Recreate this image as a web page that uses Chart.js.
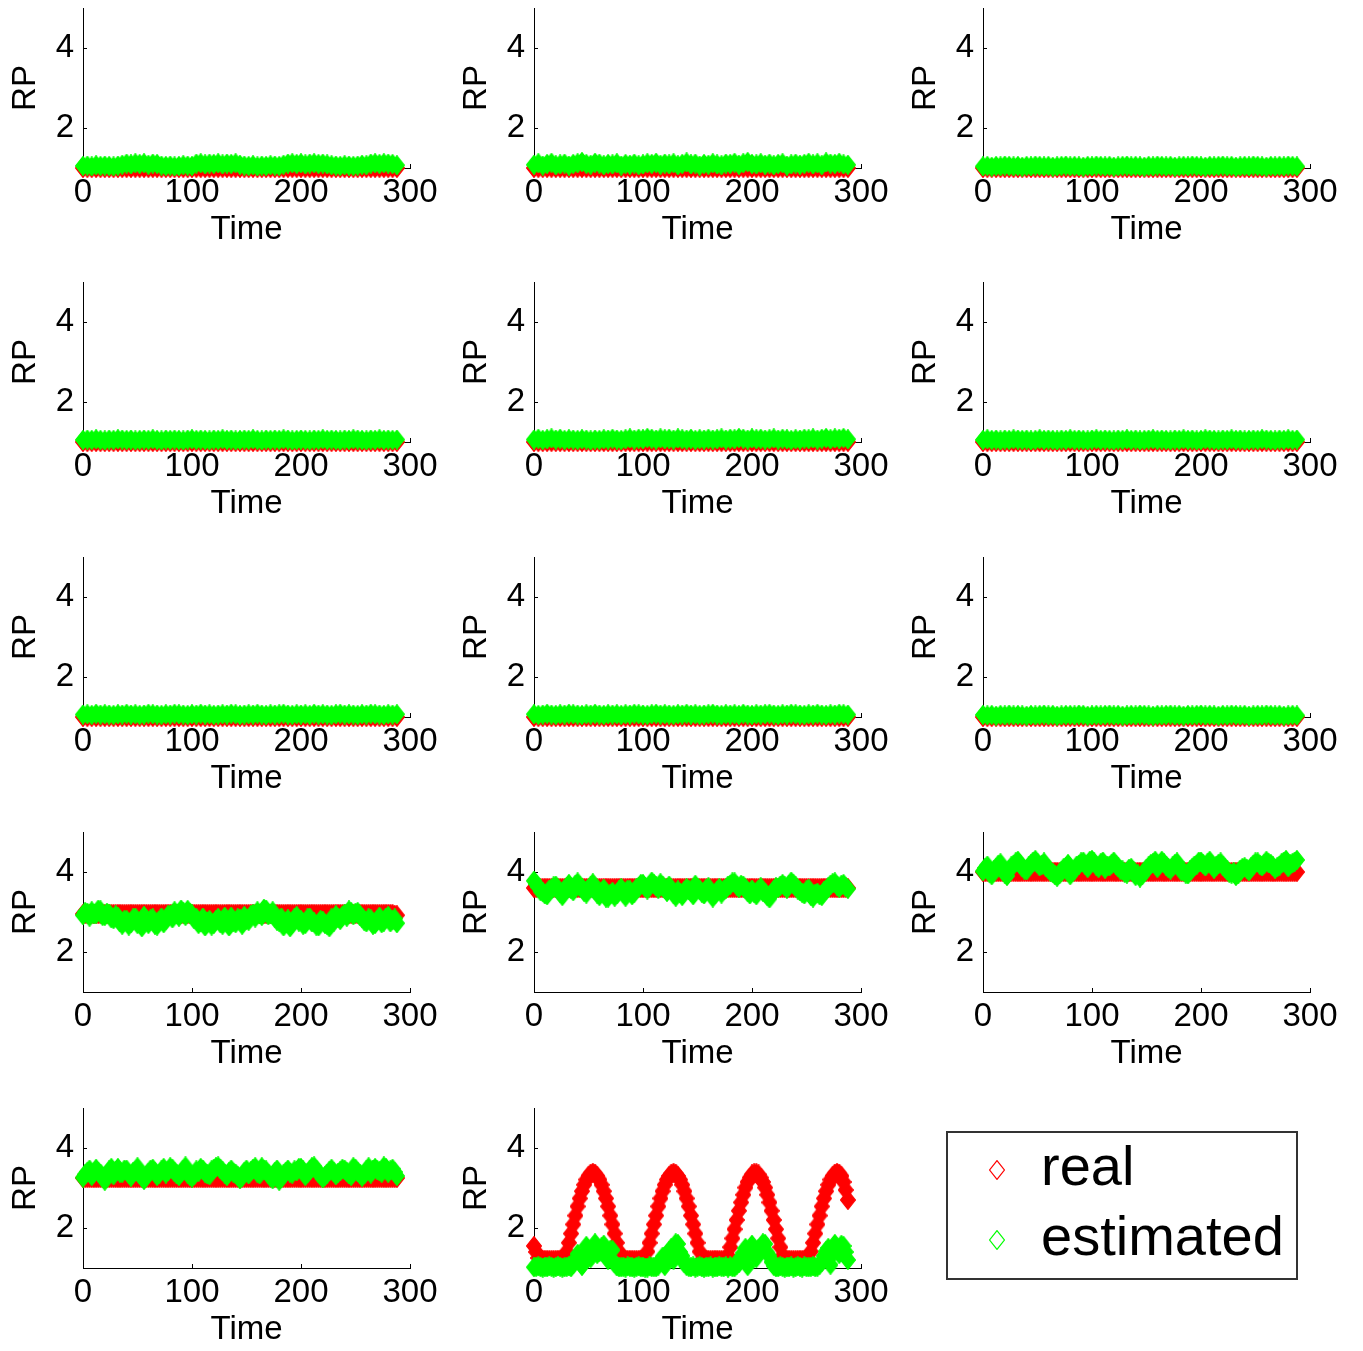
<!DOCTYPE html>
<html>
<head>
<meta charset="utf-8">
<script src="https://cdn.jsdelivr.net/npm/chart.js@4.4.1/dist/chart.umd.min.js"></script>
<style>
  body { margin: 0; background: #fff; }
  #page { position: relative; width: 1363px; height: 1351px; overflow: hidden; }
  canvas { position: absolute; }
  #legendBox { position: absolute; left: 946px; top: 1131px; width: 352px; height: 149px;
               box-sizing: border-box; border: 2px solid #333; }
</style>
</head>
<body>
<div id="page">
  <div id="legendBox"></div>
</div>
<script>
/* RP vs time, real and estimated, 14 small panels + legend */

// time steps: every 4th step for the flat panels, every 2nd for the busy ones
const time4 = [
    0, 4, 8, 12, 16, 20, 24, 28, 32, 36,
    40, 44, 48, 52, 56, 60, 64, 68, 72, 76,
    80, 84, 88, 92, 96, 100, 104, 108, 112, 116,
    120, 124, 128, 132, 136, 140, 144, 148, 152, 156,
    160, 164, 168, 172, 176, 180, 184, 188, 192, 196,
    200, 204, 208, 212, 216, 220, 224, 228, 232, 236,
    240, 244, 248, 252, 256, 260, 264, 268, 272, 276,
    280, 284, 288 ];

const time2 = [
    0, 2, 4, 6, 8, 10, 12, 14, 16, 18,
    20, 22, 24, 26, 28, 30, 32, 34, 36, 38,
    40, 42, 44, 46, 48, 50, 52, 54, 56, 58,
    60, 62, 64, 66, 68, 70, 72, 74, 76, 78,
    80, 82, 84, 86, 88, 90, 92, 94, 96, 98,
    100, 102, 104, 106, 108, 110, 112, 114, 116, 118,
    120, 122, 124, 126, 128, 130, 132, 134, 136, 138,
    140, 142, 144, 146, 148, 150, 152, 154, 156, 158,
    160, 162, 164, 166, 168, 170, 172, 174, 176, 178,
    180, 182, 184, 186, 188, 190, 192, 194, 196, 198,
    200, 202, 204, 206, 208, 210, 212, 214, 216, 218,
    220, 222, 224, 226, 228, 230, 232, 234, 236, 238,
    240, 242, 244, 246, 248, 250, 252, 254, 256, 258,
    260, 262, 264, 266, 268, 270, 272, 274, 276, 278,
    280, 282, 284, 286, 288 ];

const xTicks = [0, 100, 200, 300];
const xTickLabels = ['0', '100', '200', '300'];
const yTicks = [2, 4];
const yTickLabels = ['2', '4'];
const seriesNames = ['real', 'estimated'];

// real RP
const realOne = [
    1, 1, 1, 1, 1, 1, 1, 1, 1, 1,
    1, 1, 1, 1, 1, 1, 1, 1, 1, 1,
    1, 1, 1, 1, 1, 1, 1, 1, 1, 1,
    1, 1, 1, 1, 1, 1, 1, 1, 1, 1,
    1, 1, 1, 1, 1, 1, 1, 1, 1, 1,
    1, 1, 1, 1, 1, 1, 1, 1, 1, 1,
    1, 1, 1, 1, 1, 1, 1, 1, 1, 1,
    1, 1, 1 ];

const real10 = [
    2.95, 2.95, 2.95, 2.95, 2.95, 2.95, 2.95, 2.95, 2.95, 2.95,
    2.95, 2.95, 2.95, 2.95, 2.95, 2.95, 2.95, 2.95, 2.95, 2.95,
    2.95, 2.95, 2.95, 2.95, 2.95, 2.95, 2.95, 2.95, 2.95, 2.95,
    2.95, 2.95, 2.95, 2.95, 2.95, 2.95, 2.95, 2.95, 2.95, 2.95,
    2.95, 2.95, 2.95, 2.95, 2.95, 2.95, 2.95, 2.95, 2.95, 2.95,
    2.95, 2.95, 2.95, 2.95, 2.95, 2.95, 2.95, 2.95, 2.95, 2.95,
    2.95, 2.95, 2.95, 2.95, 2.95, 2.95, 2.95, 2.95, 2.95, 2.95,
    2.95, 2.95, 2.95, 2.95, 2.95, 2.95, 2.95, 2.95, 2.95, 2.95,
    2.95, 2.95, 2.95, 2.95, 2.95, 2.95, 2.95, 2.95, 2.95, 2.95,
    2.95, 2.95, 2.95, 2.95, 2.95, 2.95, 2.95, 2.95, 2.95, 2.95,
    2.95, 2.95, 2.95, 2.95, 2.95, 2.95, 2.95, 2.95, 2.95, 2.95,
    2.95, 2.95, 2.95, 2.95, 2.95, 2.95, 2.95, 2.95, 2.95, 2.95,
    2.95, 2.95, 2.95, 2.95, 2.95, 2.95, 2.95, 2.95, 2.95, 2.95,
    2.95, 2.95, 2.95, 2.95, 2.95, 2.95, 2.95, 2.95, 2.95, 2.95,
    2.95, 2.95, 2.95, 2.93, 2.92 ];

const real11 = [
    3.6, 3.6, 3.6, 3.6, 3.6, 3.6, 3.6, 3.6, 3.6, 3.6,
    3.6, 3.6, 3.6, 3.6, 3.6, 3.6, 3.6, 3.6, 3.6, 3.6,
    3.6, 3.6, 3.6, 3.6, 3.6, 3.6, 3.6, 3.6, 3.6, 3.6,
    3.6, 3.6, 3.6, 3.6, 3.6, 3.6, 3.6, 3.6, 3.6, 3.6,
    3.6, 3.6, 3.6, 3.6, 3.6, 3.6, 3.6, 3.6, 3.6, 3.6,
    3.6, 3.6, 3.6, 3.6, 3.6, 3.6, 3.6, 3.6, 3.6, 3.6,
    3.6, 3.6, 3.6, 3.6, 3.6, 3.6, 3.6, 3.6, 3.6, 3.6,
    3.6, 3.6, 3.6, 3.6, 3.6, 3.6, 3.6, 3.6, 3.6, 3.6,
    3.6, 3.6, 3.6, 3.6, 3.6, 3.6, 3.6, 3.6, 3.6, 3.6,
    3.6, 3.6, 3.6, 3.6, 3.6, 3.6, 3.6, 3.6, 3.6, 3.6,
    3.6, 3.6, 3.6, 3.6, 3.6, 3.6, 3.6, 3.6, 3.6, 3.6,
    3.6, 3.6, 3.6, 3.6, 3.6, 3.6, 3.6, 3.6, 3.6, 3.6,
    3.6, 3.6, 3.6, 3.6, 3.6, 3.6, 3.6, 3.6, 3.6, 3.6,
    3.6, 3.6, 3.6, 3.6, 3.6, 3.6, 3.6, 3.6, 3.6, 3.6,
    3.6, 3.6, 3.6, 3.6, 3.6 ];

const real12 = [
    4, 4, 4, 4, 4, 4, 4, 4, 4, 4,
    4, 4, 4, 4, 4, 4, 4, 4, 4, 4,
    4, 4, 4, 4, 4, 4, 4, 4, 4, 4,
    4, 4, 4, 4, 4, 4, 4, 4, 4, 4,
    4, 4, 4, 4, 4, 4, 4, 4, 4, 4,
    4, 4, 4, 4, 4, 4, 4, 4, 4, 4,
    4, 4, 4, 4, 4, 4, 4, 4, 4, 4,
    4, 4, 4, 4, 4, 4, 4, 4, 4, 4,
    4, 4, 4, 4, 4, 4, 4, 4, 4, 4,
    4, 4, 4, 4, 4, 4, 4, 4, 4, 4,
    4, 4, 4, 4, 4, 4, 4, 4, 4, 4,
    4, 4, 4, 4, 4, 4, 4, 4, 4, 4,
    4, 4, 4, 4, 4, 4, 4, 4, 4, 4,
    4, 4, 4, 4, 4, 4, 4, 4, 4, 4,
    4, 4, 4, 4, 4 ];

const real13 = [
    3.25, 3.25, 3.25, 3.25, 3.25, 3.25, 3.25, 3.25, 3.25, 3.25,
    3.25, 3.25, 3.25, 3.25, 3.25, 3.25, 3.25, 3.25, 3.25, 3.25,
    3.25, 3.25, 3.25, 3.25, 3.25, 3.25, 3.25, 3.25, 3.25, 3.25,
    3.25, 3.25, 3.25, 3.25, 3.25, 3.25, 3.25, 3.25, 3.25, 3.25,
    3.25, 3.25, 3.25, 3.25, 3.25, 3.25, 3.25, 3.25, 3.25, 3.25,
    3.25, 3.25, 3.25, 3.25, 3.25, 3.25, 3.25, 3.25, 3.25, 3.25,
    3.25, 3.25, 3.25, 3.25, 3.25, 3.25, 3.25, 3.25, 3.25, 3.25,
    3.25, 3.25, 3.25, 3.25, 3.25, 3.25, 3.25, 3.25, 3.25, 3.25,
    3.25, 3.25, 3.25, 3.25, 3.25, 3.25, 3.25, 3.25, 3.25, 3.25,
    3.25, 3.25, 3.25, 3.25, 3.25, 3.25, 3.25, 3.25, 3.25, 3.25,
    3.25, 3.25, 3.25, 3.25, 3.25, 3.25, 3.25, 3.25, 3.25, 3.25,
    3.25, 3.25, 3.25, 3.25, 3.25, 3.25, 3.25, 3.25, 3.25, 3.25,
    3.25, 3.25, 3.25, 3.25, 3.25, 3.25, 3.25, 3.25, 3.25, 3.25,
    3.25, 3.25, 3.25, 3.25, 3.25, 3.25, 3.25, 3.25, 3.25, 3.25,
    3.25, 3.25, 3.25, 3.25, 3.25 ];

const real14 = [
    1.55, 1.4, 1.25, 1.2, 1.2, 1.2, 1.2, 1.2, 1.2, 1.2,
    1.2, 1.2, 1.2, 1.2, 1.2, 1.41, 1.63, 1.86, 2.09, 2.31,
    2.54, 2.74, 2.92, 3.08, 3.21, 3.30, 3.36, 3.38, 3.36, 3.30,
    3.21, 3.08, 2.92, 2.74, 2.54, 2.31, 2.09, 1.86, 1.63, 1.41,
    1.2, 1.2, 1.2, 1.2, 1.2, 1.2, 1.2, 1.2, 1.2, 1.2,
    1.2, 1.2, 1.41, 1.63, 1.86, 2.09, 2.31, 2.54, 2.74, 2.92,
    3.08, 3.21, 3.30, 3.36, 3.38, 3.36, 3.30, 3.21, 3.08, 2.92,
    2.74, 2.54, 2.31, 2.09, 1.86, 1.63, 1.41, 1.2, 1.2, 1.2,
    1.2, 1.2, 1.2, 1.2, 1.2, 1.2, 1.2, 1.2, 1.2, 1.31,
    1.52, 1.74, 1.97, 2.20, 2.43, 2.64, 2.83, 3.01, 3.15, 3.26,
    3.34, 3.37, 3.37, 3.34, 3.26, 3.15, 3.01, 2.83, 2.64, 2.43,
    2.20, 1.97, 1.74, 1.52, 1.31, 1.2, 1.2, 1.2, 1.2, 1.2,
    1.2, 1.2, 1.2, 1.2, 1.2, 1.2, 1.2, 1.41, 1.63, 1.86,
    2.09, 2.31, 2.54, 2.74, 2.92, 3.08, 3.21, 3.30, 3.36, 3.38,
    3.36, 3.30, 3.15, 2.95, 2.70 ];

// estimated RP
const est1 = [
    1.05, 1.06, 1.04, 1.07, 1.05, 1.06, 1.05, 1.04, 1.06, 1.08,
    1.11, 1.09, 1.12, 1.10, 1.12, 1.08, 1.11, 1.10, 1.06, 1.05,
    1.06, 1.04, 1.05, 1.07, 1.06, 1.05, 1.11, 1.12, 1.09, 1.11,
    1.10, 1.12, 1.09, 1.11, 1.10, 1.12, 1.08, 1.06, 1.05, 1.07,
    1.04, 1.06, 1.05, 1.07, 1.06, 1.05, 1.08, 1.11, 1.12, 1.10,
    1.12, 1.09, 1.11, 1.12, 1.10, 1.11, 1.09, 1.07, 1.06, 1.05,
    1.07, 1.06, 1.05, 1.06, 1.08, 1.07, 1.11, 1.12, 1.10, 1.12,
    1.11, 1.10, 1.07 ];

const est2 = [
    1.08, 1.12, 1.06, 1.10, 1.13, 1.07, 1.09, 1.11, 1.06, 1.10,
    1.12, 1.15, 1.10, 1.08, 1.13, 1.11, 1.07, 1.10, 1.09, 1.12,
    1.06, 1.10, 1.08, 1.11, 1.07, 1.09, 1.12, 1.10, 1.13, 1.08,
    1.11, 1.09, 1.12, 1.07, 1.10, 1.14, 1.09, 1.11, 1.06, 1.10,
    1.08, 1.12, 1.09, 1.07, 1.11, 1.10, 1.13, 1.08, 1.12, 1.15,
    1.10, 1.09, 1.12, 1.08, 1.11, 1.07, 1.10, 1.12, 1.06, 1.09,
    1.11, 1.08, 1.10, 1.13, 1.09, 1.12, 1.07, 1.14, 1.11, 1.10,
    1.13, 1.09, 1.08 ];

const est3 = [
    1.04, 1.05, 1.03, 1.05, 1.04, 1.06, 1.05, 1.04, 1.05, 1.03,
    1.05, 1.04, 1.06, 1.05, 1.04, 1.05, 1.03, 1.04, 1.05, 1.06,
    1.04, 1.05, 1.04, 1.03, 1.05, 1.04, 1.06, 1.05, 1.04, 1.05,
    1.03, 1.04, 1.05, 1.06, 1.04, 1.05, 1.04, 1.03, 1.05, 1.04,
    1.06, 1.05, 1.04, 1.05, 1.03, 1.04, 1.05, 1.04, 1.06, 1.05,
    1.04, 1.03, 1.05, 1.04, 1.05, 1.06, 1.04, 1.05, 1.03, 1.04,
    1.05, 1.04, 1.06, 1.05, 1.04, 1.03, 1.05, 1.04, 1.05, 1.04,
    1.06, 1.05, 1.04 ];

const est4 = [
    1.05, 1.06, 1.05, 1.07, 1.05, 1.04, 1.06, 1.05, 1.07, 1.06,
    1.05, 1.06, 1.04, 1.05, 1.06, 1.05, 1.07, 1.05, 1.04, 1.06,
    1.05, 1.06, 1.05, 1.04, 1.06, 1.07, 1.05, 1.06, 1.05, 1.04,
    1.06, 1.05, 1.07, 1.05, 1.06, 1.04, 1.05, 1.06, 1.05, 1.07,
    1.05, 1.04, 1.06, 1.05, 1.06, 1.05, 1.07, 1.06, 1.04, 1.05,
    1.06, 1.05, 1.04, 1.06, 1.05, 1.07, 1.05, 1.06, 1.05, 1.04,
    1.06, 1.05, 1.07, 1.06, 1.05, 1.04, 1.06, 1.05, 1.07, 1.05,
    1.06, 1.05, 1.06 ];

const est5 = [
    1.06, 1.08, 1.05, 1.07, 1.09, 1.06, 1.08, 1.05, 1.07, 1.06,
    1.05, 1.07, 1.06, 1.04, 1.06, 1.05, 1.07, 1.06, 1.08, 1.06,
    1.05, 1.07, 1.09, 1.06, 1.08, 1.07, 1.10, 1.08, 1.06, 1.09,
    1.07, 1.08, 1.06, 1.09, 1.07, 1.06, 1.08, 1.05, 1.07, 1.06,
    1.08, 1.06, 1.07, 1.09, 1.06, 1.08, 1.07, 1.10, 1.08, 1.06,
    1.09, 1.07, 1.08, 1.06, 1.07, 1.09, 1.06, 1.08, 1.07, 1.05,
    1.07, 1.06, 1.08, 1.07, 1.09, 1.06, 1.08, 1.10, 1.07, 1.09,
    1.08, 1.10, 1.07 ];

const est6 = [
    1.05, 1.07, 1.05, 1.06, 1.04, 1.06, 1.05, 1.07, 1.06, 1.05,
    1.06, 1.04, 1.05, 1.07, 1.05, 1.06, 1.05, 1.04, 1.06, 1.05,
    1.07, 1.05, 1.06, 1.05, 1.04, 1.06, 1.07, 1.05, 1.06, 1.05,
    1.04, 1.06, 1.05, 1.07, 1.05, 1.06, 1.04, 1.05, 1.06, 1.07,
    1.05, 1.06, 1.05, 1.04, 1.06, 1.05, 1.07, 1.05, 1.06, 1.04,
    1.05, 1.07, 1.06, 1.05, 1.04, 1.06, 1.05, 1.07, 1.05, 1.06,
    1.04, 1.05, 1.06, 1.05, 1.07, 1.06, 1.05, 1.04, 1.06, 1.05,
    1.07, 1.05, 1.06 ];

const est7 = [
    1.06, 1.07, 1.05, 1.08, 1.06, 1.07, 1.06, 1.05, 1.07, 1.06,
    1.08, 1.06, 1.07, 1.05, 1.06, 1.08, 1.07, 1.06, 1.05, 1.07,
    1.06, 1.08, 1.07, 1.06, 1.05, 1.07, 1.06, 1.08, 1.06, 1.07,
    1.05, 1.06, 1.07, 1.06, 1.08, 1.07, 1.05, 1.06, 1.07, 1.06,
    1.08, 1.06, 1.05, 1.07, 1.06, 1.07, 1.08, 1.06, 1.05, 1.07,
    1.06, 1.07, 1.05, 1.08, 1.06, 1.07, 1.06, 1.05, 1.07, 1.08,
    1.06, 1.07, 1.06, 1.05, 1.07, 1.06, 1.08, 1.07, 1.06, 1.05,
    1.07, 1.06, 1.07 ];

const est8 = [
    1.07, 1.05, 1.06, 1.08, 1.06, 1.05, 1.07, 1.06, 1.08, 1.07,
    1.06, 1.05, 1.07, 1.06, 1.08, 1.06, 1.05, 1.07, 1.06, 1.07,
    1.05, 1.07, 1.06, 1.08, 1.07, 1.06, 1.05, 1.07, 1.08, 1.06,
    1.07, 1.06, 1.05, 1.07, 1.06, 1.08, 1.06, 1.07, 1.05, 1.06,
    1.07, 1.08, 1.06, 1.05, 1.07, 1.06, 1.07, 1.05, 1.08, 1.06,
    1.05, 1.07, 1.06, 1.07, 1.08, 1.06, 1.05, 1.07, 1.06, 1.08,
    1.07, 1.06, 1.05, 1.07, 1.06, 1.08, 1.06, 1.05, 1.07, 1.06,
    1.08, 1.07, 1.06 ];

const est9 = [
    1.05, 1.04, 1.05, 1.03, 1.05, 1.04, 1.06, 1.04, 1.05, 1.04,
    1.03, 1.05, 1.04, 1.05, 1.06, 1.04, 1.05, 1.03, 1.04, 1.05,
    1.05, 1.04, 1.06, 1.05, 1.03, 1.04, 1.05, 1.04, 1.05, 1.06,
    1.04, 1.05, 1.03, 1.04, 1.05, 1.04, 1.06, 1.05, 1.04, 1.03,
    1.05, 1.04, 1.05, 1.06, 1.04, 1.05, 1.03, 1.05, 1.04, 1.05,
    1.06, 1.04, 1.05, 1.04, 1.03, 1.05, 1.04, 1.06, 1.05, 1.04,
    1.05, 1.03, 1.04, 1.05, 1.04, 1.06, 1.05, 1.04, 1.05, 1.03,
    1.04, 1.05, 1.04 ];

const est10 = [
    2.92, 3.00, 2.98, 2.88, 3.02, 2.94, 2.95, 3.06, 3.04, 2.90,
    2.90, 2.98, 2.96, 2.84, 2.82, 2.92, 2.88, 2.74, 2.68, 2.80,
    2.80, 2.66, 2.72, 2.84, 2.86, 2.70, 2.75, 2.62, 2.90, 2.78,
    2.70, 2.82, 2.84, 2.68, 2.66, 2.78, 2.86, 2.72, 2.80, 2.92,
    2.92, 2.84, 3.02, 2.96, 2.88, 3.06, 3.00, 2.90, 3.05, 2.98,
    2.94, 2.82, 2.85, 2.70, 2.74, 2.86, 2.64, 2.76, 2.80, 2.66,
    2.70, 2.80, 2.85, 2.72, 2.68, 2.88, 2.78, 2.64, 2.88, 2.76,
    2.72, 2.84, 2.82, 2.68, 2.90, 2.80, 2.78, 2.92, 2.95, 2.86,
    3.02, 2.94, 2.90, 3.08, 3.06, 2.92, 2.96, 3.02, 2.86, 2.78,
    2.76, 2.86, 2.64, 2.72, 2.82, 2.62, 2.72, 2.84, 2.90, 2.76,
    2.80, 2.68, 2.70, 2.84, 2.86, 2.74, 2.74, 2.66, 2.64, 2.80,
    2.78, 2.70, 2.68, 2.62, 2.84, 2.76, 2.92, 2.86, 2.80, 2.90,
    2.96, 2.88, 3.04, 3.00, 2.92, 2.98, 3.00, 2.90, 2.86, 2.78,
    2.74, 2.84, 2.82, 2.68, 2.70, 2.80, 2.88, 2.72, 2.76, 2.86,
    2.90, 2.74, 2.80, 2.84, 2.72 ];

const est11 = [
    3.78, 3.70, 3.62, 3.52, 3.50, 3.44, 3.42, 3.56, 3.58, 3.64,
    3.66, 3.56, 3.48, 3.40, 3.56, 3.62, 3.70, 3.58, 3.52, 3.68,
    3.74, 3.64, 3.60, 3.50, 3.46, 3.58, 3.64, 3.72, 3.54, 3.46,
    3.40, 3.50, 3.58, 3.36, 3.36, 3.44, 3.50, 3.38, 3.44, 3.54,
    3.60, 3.48, 3.38, 3.56, 3.54, 3.42, 3.48, 3.60, 3.62, 3.70,
    3.70, 3.62, 3.56, 3.66, 3.76, 3.70, 3.64, 3.58, 3.72, 3.66,
    3.58, 3.50, 3.66, 3.56, 3.46, 3.38, 3.54, 3.48, 3.40, 3.52,
    3.60, 3.54, 3.50, 3.42, 3.68, 3.60, 3.56, 3.48, 3.44, 3.58,
    3.62, 3.50, 3.36, 3.44, 3.52, 3.60, 3.46, 3.54, 3.58, 3.66,
    3.68, 3.74, 3.74, 3.66, 3.60, 3.68, 3.66, 3.58, 3.50, 3.44,
    3.56, 3.48, 3.42, 3.56, 3.62, 3.50, 3.48, 3.40, 3.34, 3.46,
    3.54, 3.62, 3.60, 3.66, 3.70, 3.64, 3.58, 3.68, 3.76, 3.70,
    3.64, 3.56, 3.52, 3.48, 3.44, 3.54, 3.58, 3.40, 3.36, 3.46,
    3.48, 3.42, 3.40, 3.52, 3.56, 3.62, 3.68, 3.72, 3.74, 3.66,
    3.60, 3.68, 3.70, 3.62, 3.58 ];

const est12 = [
    4.02, 4.10, 4.16, 3.98, 3.92, 4.04, 4.10, 4.18, 4.22, 4.08,
    3.96, 3.90, 4.06, 4.14, 4.18, 4.24, 4.28, 4.20, 4.12, 4.06,
    4.04, 4.14, 4.20, 4.26, 4.30, 4.22, 4.14, 4.18, 4.24, 4.12,
    4.08, 4.00, 3.98, 3.92, 3.88, 3.94, 4.02, 4.10, 4.12, 4.20,
    3.92, 4.00, 4.06, 4.16, 4.18, 4.24, 4.26, 4.18, 4.10, 4.28,
    4.30, 4.24, 4.16, 4.10, 4.22, 4.26, 4.08, 4.16, 4.14, 4.20,
    4.26, 4.18, 4.12, 4.06, 4.04, 3.98, 3.96, 4.08, 4.10, 4.02,
    3.90, 3.94, 3.86, 3.92, 4.00, 4.08, 4.14, 4.20, 4.22, 4.28,
    4.10, 4.20, 4.28, 4.22, 4.16, 4.10, 4.06, 4.14, 4.20, 4.24,
    4.12, 4.02, 4.02, 3.96, 3.94, 4.04, 4.10, 4.16, 4.18, 4.26,
    4.26, 4.20, 4.14, 4.22, 4.28, 4.18, 4.08, 4.16, 4.20, 4.24,
    4.16, 4.10, 4.04, 3.98, 3.96, 4.00, 3.90, 3.94, 4.06, 4.10,
    4.12, 4.08, 4.02, 4.12, 4.18, 4.24, 4.24, 4.18, 4.14, 4.20,
    4.28, 4.22, 4.20, 4.14, 4.08, 4.12, 4.16, 4.22, 4.26, 4.30,
    4.12, 4.20, 4.22, 4.26, 4.30 ];

const est13 = [
    3.26, 3.34, 3.40, 3.46, 3.30, 3.38, 3.48, 3.40, 3.36, 3.28,
    3.18, 3.30, 3.44, 3.50, 3.32, 3.42, 3.50, 3.38, 3.38, 3.46,
    3.46, 3.36, 3.28, 3.40, 3.42, 3.52, 3.34, 3.28, 3.20, 3.30,
    3.38, 3.46, 3.48, 3.40, 3.30, 3.36, 3.44, 3.50, 3.36, 3.42,
    3.52, 3.48, 3.40, 3.34, 3.30, 3.38, 3.46, 3.54, 3.36, 3.30,
    3.26, 3.32, 3.44, 3.40, 3.50, 3.46, 3.38, 3.34, 3.32, 3.44,
    3.48, 3.52, 3.54, 3.48, 3.42, 3.36, 3.30, 3.40, 3.46, 3.38,
    3.36, 3.30, 3.22, 3.28, 3.40, 3.46, 3.34, 3.42, 3.48, 3.52,
    3.38, 3.34, 3.52, 3.46, 3.44, 3.36, 3.28, 3.22, 3.40, 3.46,
    3.18, 3.26, 3.34, 3.40, 3.46, 3.38, 3.36, 3.44, 3.42, 3.50,
    3.50, 3.44, 3.30, 3.38, 3.44, 3.52, 3.54, 3.46, 3.38, 3.32,
    3.24, 3.30, 3.36, 3.42, 3.48, 3.40, 3.32, 3.38, 3.42, 3.48,
    3.46, 3.40, 3.34, 3.30, 3.52, 3.48, 3.40, 3.36, 3.28, 3.34,
    3.44, 3.52, 3.36, 3.46, 3.50, 3.44, 3.42, 3.38, 3.54, 3.50,
    3.38, 3.44, 3.48, 3.40, 3.30 ];

const est14 = [
    1.02, 1.03, 1.04, 1.02, 1.01, 1.03, 1.02, 1.04, 1.03, 1.01,
    1.02, 1.04, 1.03, 1.01, 1.02, 1.03, 1.04, 1.02, 1.10, 1.22,
    1.35, 1.15, 1.05, 1.30, 1.55, 1.40, 1.25, 1.48, 1.62, 1.35,
    1.40, 1.52, 1.58, 1.30, 1.20, 1.45, 1.45, 1.12, 1.04, 1.02,
    1.02, 1.03, 1.01, 1.04, 1.03, 1.02, 1.01, 1.03, 1.04, 1.02,
    1.03, 1.01, 1.01, 1.04, 1.02, 1.03, 1.02, 1.06, 1.18, 1.28,
    1.05, 1.35, 1.42, 1.50, 1.20, 1.62, 1.60, 1.40, 1.30, 1.12,
    1.05, 1.03, 1.02, 1.04, 1.01, 1.03, 1.04, 1.02, 1.01, 1.03,
    1.02, 1.04, 1.01, 1.03, 1.02, 1.04, 1.03, 1.02, 1.04, 1.01,
    1.04, 1.02, 1.02, 1.08, 1.12, 1.28, 1.38, 1.50, 1.05, 1.42,
    1.58, 1.35, 1.25, 1.48, 1.52, 1.62, 1.60, 1.38, 1.30, 1.15,
    1.05, 1.02, 1.02, 1.04, 1.03, 1.01, 1.03, 1.02, 1.04, 1.01,
    1.02, 1.04, 1.03, 1.01, 1.04, 1.02, 1.02, 1.03, 1.04, 1.02,
    1.03, 1.08, 1.15, 1.30, 1.42, 1.50, 1.08, 1.35, 1.60, 1.45,
    1.35, 1.58, 1.55, 1.40, 1.20 ];

const panels = [
    [time4, realOne, est1], [time4, realOne, est2], [time4, realOne, est3],
    [time4, realOne, est4], [time4, realOne, est5], [time4, realOne, est6],
    [time4, realOne, est7], [time4, realOne, est8], [time4, realOne, est9],
    [time2, real10, est10], [time2, real11, est11], [time2, real12, est12],
    [time2, real13, est13], [time2, real14, est14] ];

Chart.defaults.font.family = "'Liberation Sans', Arial, sans-serif";
Chart.defaults.color = '#000';

function diamond ( colour, filled, w, h )
{
    const c = document.createElement('canvas');
    c.width = w;
    c.height = h;
    const g = c.getContext('2d');
    g.beginPath();
    g.moveTo(w / 2, 0.6);
    g.lineTo(w - 0.6, h / 2);
    g.lineTo(w / 2, h - 0.6);
    g.lineTo(0.6, h / 2);
    g.closePath();
    if ( filled )
    {
        g.fillStyle = colour;
        g.fill();
    }
    g.strokeStyle = colour;
    g.lineWidth = 1.2;
    g.stroke();
    return c;
}

const redMark = diamond('#ff0000', true, 16, 20);
const greenMark = diamond('#00ff00', true, 16, 20);
const redOpen = diamond('#ff0000', false, 16, 20);
const greenOpen = diamond('#00ff00', false, 16, 20);

function toPoints ( times, values )
{
    return times.map((t, i) => ({ x: t, y: values[i] }));
}

// short ticks pointing into the axes, drawn under the markers
const innerTicks =
{
    id: 'innerTicks',
    beforeDatasetsDraw: function (chart)
    {
        const { ctx, scales: { x, y } } = chart;
        ctx.save();
        ctx.strokeStyle = '#000';
        ctx.lineWidth = 1;
        ctx.beginPath();
        for ( let v of yTicks )
        {
            const py = Math.round(y.getPixelForValue(v)) + 0.5;
            ctx.moveTo(x.left, py);
            ctx.lineTo(x.left + 4, py);
        }
        for ( let v of xTicks )
        {
            const px = Math.round(x.getPixelForValue(v)) + 0.5;
            ctx.moveTo(px, y.bottom);
            ctx.lineTo(px, y.bottom - 4);
        }
        ctx.stroke();
        ctx.restore();
    }
};

const colLefts = [0, 451, 900];
const rowTops = [0, 274, 549, 824, 1100];
const page = document.getElementById('page');

function make_canvas ( left, top, w, h )
{
    const c = document.createElement('canvas');
    c.width = w;
    c.height = h;
    c.style.left = left + 'px';
    c.style.top = top + 'px';
    page.appendChild(c);
    return c;
}

panels.forEach(function ( panel, k )
{
    const canvas = make_canvas(colLefts[k % 3], rowTops[Math.floor(k / 3)], 450, 275);
    const [times, real, est] = panel;

    const data =
    {
        datasets: [
            { label: seriesNames[0], data: toPoints(times, real), pointStyle: redMark, order: 2, clip: false },
            { label: seriesNames[1], data: toPoints(times, est), pointStyle: greenMark, order: 1, clip: false }
        ]
    };

    const options =
    {
        responsive: false,
        animation: false,
        events: [],
        layout: { padding: { top: 8, right: 40, left: 0, bottom: 0 } },
        plugins: { legend: { display: false }, tooltip: { enabled: false } },
        scales:
        {
            x:
            {
                type: 'linear', min: 0, max: 300,
                afterBuildTicks: function (s) { s.ticks = xTicks.map(v => ({ value: v })); },
                afterFit: function (s) { s.height = 107; s.paddingLeft = 0; s.paddingRight = 0; },
                grid: { drawOnChartArea: false, drawTicks: false },
                border: { color: '#000', width: 1 },
                ticks: { padding: 5, font: { size: 33 }, maxRotation: 0,
                         callback: (v, i) => xTickLabels[i] },
                title: { display: true, text: 'Time', font: { size: 33 }, padding: { top: 0, bottom: 25 } }
            },
            y:
            {
                type: 'linear', min: 1, max: 5,
                afterBuildTicks: function (s) { s.ticks = yTicks.map(v => ({ value: v })); },
                afterFit: function (s) { s.width = 83; s.paddingTop = 0; s.paddingBottom = 0; },
                grid: { drawOnChartArea: false, drawTicks: false },
                border: { color: '#000', width: 1 },
                ticks: { padding: 9, font: { size: 33 }, callback: (v, i) => yTickLabels[i] },
                title: { display: true, text: 'RP', font: { size: 33 }, padding: { top: 6, bottom: 0 } }
            }
        }
    };

    new Chart(canvas, { type: 'scatter', data: data, options: options, plugins: [innerTicks] });
});

// legend panel
const legendCanvas = make_canvas(948, 1120, 348, 170);
new Chart(legendCanvas,
{
    type: 'scatter',
    data:
    {
        datasets: [
            { label: seriesNames[0], data: [], pointStyle: redOpen },
            { label: seriesNames[1], data: [], pointStyle: greenOpen }
        ]
    },
    options:
    {
        responsive: false,
        animation: false,
        events: [],
        layout: { padding: { left: 19 } },
        scales: { x: { display: false }, y: { display: false } },
        plugins:
        {
            tooltip: { enabled: false },
            legend:
            {
                position: 'left',
                align: 'center',
                maxWidth: 329,
                labels:
                {
                    usePointStyle: true,
                    pointStyleWidth: 32,
                    padding: 14,
                    color: '#000',
                    font: { size: 56 },
                    generateLabels: (chart) => chart.data.datasets.map((ds, i) => ({
                        text: ds.label, pointStyle: ds.pointStyle, fillStyle: 'transparent',
                        strokeStyle: 'transparent', lineWidth: 0, datasetIndex: i, hidden: false, fontColor: '#000'
                    }))
                }
            }
        }
    }
});
</script>
</body>
</html>
